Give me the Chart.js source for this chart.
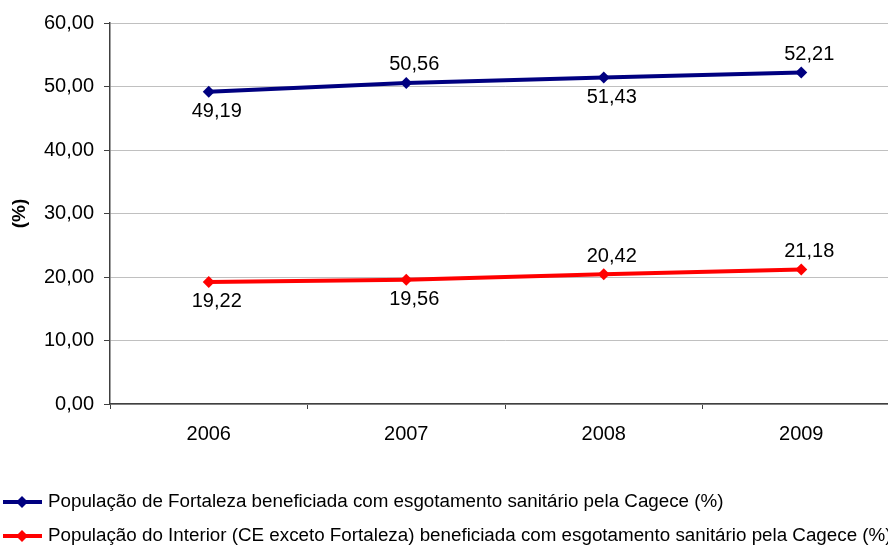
<!DOCTYPE html>
<html>
<head>
<meta charset="utf-8">
<script src="https://cdn.jsdelivr.net/npm/chart.js@4.4.1/dist/chart.umd.min.js"></script>
<style>
  html, body { margin: 0; padding: 0; background: #fff; overflow: hidden; }
  #wrap { width: 888px; height: 546px; overflow: hidden; position: relative; }
  canvas { display: block; }
</style>
</head>
<body>
<div id="wrap"><canvas id="c" width="920" height="546"></canvas></div>
<script>
// ---- data ----
const categories = ['2006', '2007', '2008', '2009'];
const fortaleza = [49.19, 50.56, 51.43, 52.21];
const interior = [19.22, 19.56, 20.42, 21.18];
const fortalezaLabel = 'População de Fortaleza beneficiada com esgotamento sanitário pela Cagece (%)';
const interiorLabel = 'População do Interior (CE exceto Fortaleza) beneficiada com esgotamento sanitário pela Cagece (%)';
const yMin = 0, yMax = 60, yStep = 10;
const yTitle = '(%)';
const fortalezaLabelPos = ['below', 'above', 'below', 'above'];
const interiorLabelPos = ['below', 'below', 'above', 'above'];

const FONT = "'Liberation Sans', Arial, sans-serif";
const fmt = v => v.toFixed(2).replace('.', ',');

const dataLabelsPlugin = {
  id: 'dataLabels',
  afterDatasetsDraw(chart) {
    const ctx = chart.ctx;
    ctx.save();
    ctx.font = '20px ' + FONT;
    ctx.fillStyle = '#000';
    ctx.textAlign = 'center';
    ctx.textBaseline = 'middle';
    chart.data.datasets.forEach((ds, i) => {
      const meta = chart.getDatasetMeta(i);
      meta.data.forEach((pt, j) => {
        const pos = ds.labelPos[j];
        const y = pos === 'above' ? pt.y - 18 : pt.y + 20;
        ctx.fillText(fmt(ds.data[j]), pt.x + 8, y);
      });
    });
    ctx.restore();
  }
};

const legendPlugin = {
  id: 'customLegend',
  afterDraw(chart) {
    const ctx = chart.ctx;
    ctx.save();
    const rows = [502, 536];
    chart.data.datasets.forEach((ds, i) => {
      const y = rows[i];
      ctx.strokeStyle = ds.borderColor;
      ctx.lineWidth = 4;
      ctx.beginPath();
      ctx.moveTo(3, y);
      ctx.lineTo(42, y);
      ctx.stroke();
      ctx.fillStyle = ds.borderColor;
      ctx.beginPath();
      ctx.moveTo(22, y - 6);
      ctx.lineTo(28, y);
      ctx.lineTo(22, y + 6);
      ctx.lineTo(16, y);
      ctx.closePath();
      ctx.fill();
      ctx.fillStyle = '#000';
      ctx.font = '18.8px ' + FONT;
      ctx.textAlign = 'left';
      ctx.textBaseline = 'middle';
      ctx.fillText(ds.label, 48, y);
    });
    ctx.restore();
  }
};

new Chart(document.getElementById('c'), {
  type: 'line',
  data: {
    labels: categories,
    datasets: [
      {
        label: fortalezaLabel,
        data: fortaleza,
        labelPos: fortalezaLabelPos,
        borderColor: '#000080',
        backgroundColor: '#000080',
        borderWidth: 4,
        pointStyle: 'rectRot',
        pointRadius: 6,
        pointBackgroundColor: '#000080',
        pointBorderWidth: 0,
        tension: 0,
        fill: false
      },
      {
        label: interiorLabel,
        data: interior,
        labelPos: interiorLabelPos,
        borderColor: '#FF0000',
        backgroundColor: '#FF0000',
        borderWidth: 4,
        pointStyle: 'rectRot',
        pointRadius: 6,
        pointBackgroundColor: '#FF0000',
        pointBorderWidth: 0,
        tension: 0,
        fill: false
      }
    ]
  },
  options: {
    responsive: false,
    animation: false,
    devicePixelRatio: 1,
    layout: { padding: { top: 23, right: 20, left: 0, bottom: 0 } },
    plugins: {
      legend: { display: false },
      tooltip: { enabled: false },
      title: { display: false }
    },
    scales: {
      x: {
        offset: true,
        grid: {
          offset: true,
          drawOnChartArea: false,
          drawTicks: true,
          tickLength: 5,
          tickColor: '#404040'
        },
        border: { color: '#404040', width: 1.5 },
        ticks: {
          color: '#000',
          font: { family: FONT, size: 20 },
          padding: 13,
          maxRotation: 0
        },
        afterFit(scale) { scale.height = 142; }
      },
      y: {
        min: yMin,
        max: yMax,
        ticks: {
          stepSize: yStep,
          color: '#000',
          font: { family: FONT, size: 20 },
          padding: 10,
          callback: v => fmt(v)
        },
        grid: {
          color: '#c0c0c0',
          lineWidth: 1,
          tickLength: 6,
          tickColor: '#404040'
        },
        border: { color: '#404040', width: 1.5 },
        title: {
          display: true,
          text: yTitle,
          color: '#000',
          font: { family: FONT, size: 19, weight: 'bold' },
          padding: { top: 8, bottom: 0 }
        },
        afterFit(scale) { scale.width = 110; }
      }
    }
  },
  plugins: [dataLabelsPlugin, legendPlugin]
});
</script>
</body>
</html>
